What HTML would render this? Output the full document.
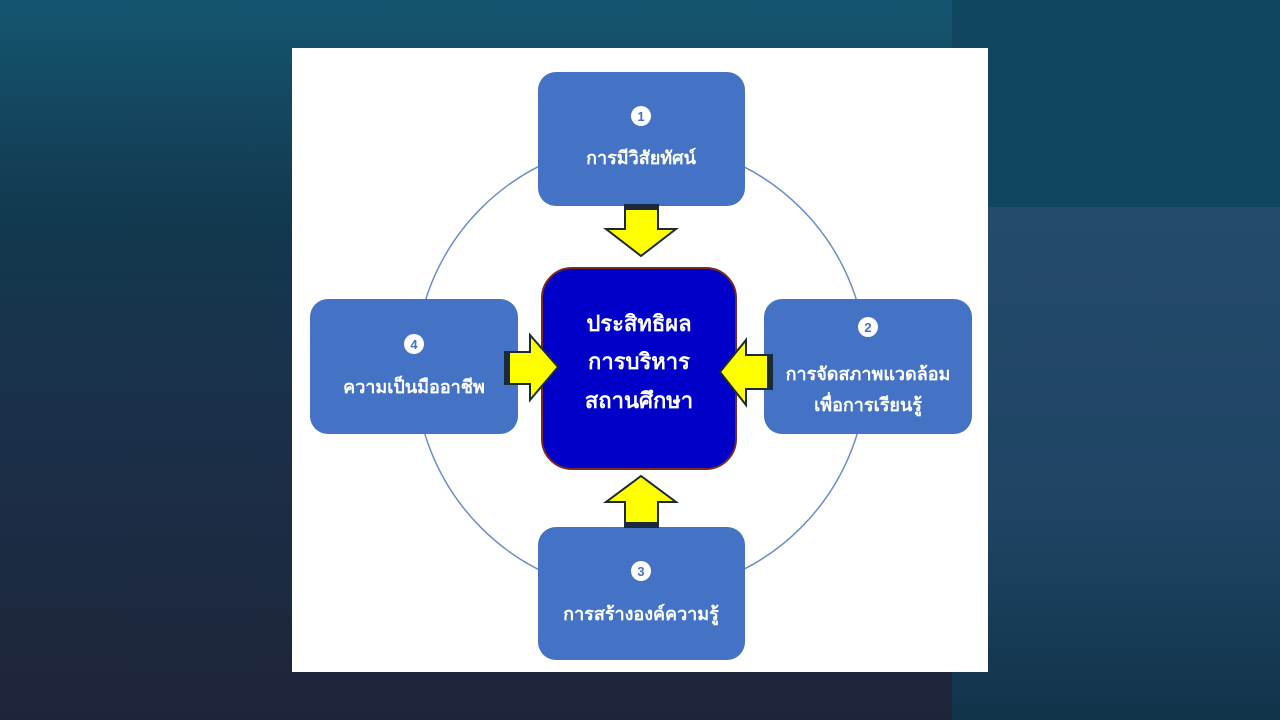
<!DOCTYPE html>
<html><head><meta charset="utf-8"><style>
html,body{margin:0;padding:0;width:1280px;height:720px;overflow:hidden}
svg{display:block}
text{font-family:"Liberation Sans","DejaVu Sans",sans-serif;font-weight:bold}
</style></head><body>
<svg width="1280" height="720" viewBox="0 0 1280 720" xmlns="http://www.w3.org/2000/svg">
<defs>
<linearGradient id="bgL" x1="0" y1="0" x2="0" y2="1">
<stop offset="0" stop-color="#155570"/><stop offset="0.3" stop-color="#12394f"/><stop offset="0.6" stop-color="#1b2f48"/><stop offset="1" stop-color="#1e253a"/></linearGradient>
<linearGradient id="bgR" x1="0" y1="0" x2="0" y2="1">
<stop offset="0" stop-color="#244a6c"/><stop offset="0.6" stop-color="#1f4464"/><stop offset="1" stop-color="#12344a"/></linearGradient>
</defs>
<rect width="952" height="720" fill="url(#bgL)"/>
<rect x="952" y="0" width="328" height="207" fill="#114660"/>
<rect x="952" y="207" width="328" height="513" fill="url(#bgR)"/>
<rect x="292" y="48" width="696" height="624" fill="#fff"/>
<circle cx="641" cy="368" r="226" fill="none" stroke="#6d8fc9" stroke-width="1.5"/>

<g fill="#4472c4">
<rect x="538" y="72" width="207" height="134" rx="18"/>
<rect x="764" y="299" width="208" height="135" rx="18"/>
<rect x="538" y="527" width="207" height="133" rx="18"/>
<rect x="310" y="299" width="208" height="135" rx="18"/>
</g>
<rect x="542" y="268" width="194" height="201" rx="30" fill="#0000c8" stroke="#7a2a1a" stroke-width="2"/>

<g fill="#ffff00" stroke="#1a2a3a" stroke-width="2" stroke-linejoin="miter">
<polygon points="625,205 658,205 658,229 676,229 641,256 606,229 625,229"/>
<polygon points="625,527 658,527 658,502 676,502 641,476 606,502 625,502"/>
<polygon points="505,352 530,352 530,335 558,367 530,400 530,384 505,384"/>
<polygon points="772,355 746,355 746,340 720,372 746,405 746,389 772,389"/>
</g>
<g fill="#1a2a3a">
<rect x="625" y="205" width="33" height="5"/>
<rect x="625" y="522" width="33" height="5"/>
<rect x="505" y="352" width="5" height="32"/>
<rect x="767" y="355" width="5" height="34"/>
</g>

<g fill="#fff">
<circle cx="641" cy="116" r="10"/><circle cx="868" cy="327" r="10"/>
<circle cx="641" cy="571" r="10"/><circle cx="414" cy="344" r="10"/>
</g>
<g fill="#4472c4" font-size="13" text-anchor="middle">
<text x="641" y="121">1</text><text x="868" y="332">2</text>
<text x="641" y="576">3</text><text x="414" y="349">4</text>
</g>
<g fill="#fff" font-size="18" text-anchor="middle">
<text x="641" y="164">การมีวิสัยทัศน์</text>
<text x="868" y="380">การจัดสภาพแวดล้อม</text>
<text x="868" y="411">เพื่อการเรียนรู้</text>
<text x="641" y="620">การสร้างองค์ความรู้</text>
<text x="414" y="393">ความเป็นมืออาชีพ</text>
</g>
<g fill="#fff" font-size="22" text-anchor="middle">
<text x="639" y="331">ประสิทธิผล</text>
<text x="639" y="369">การบริหาร</text>
<text x="639" y="408">สถานศึกษา</text>
</g>
</svg>
</body></html>
